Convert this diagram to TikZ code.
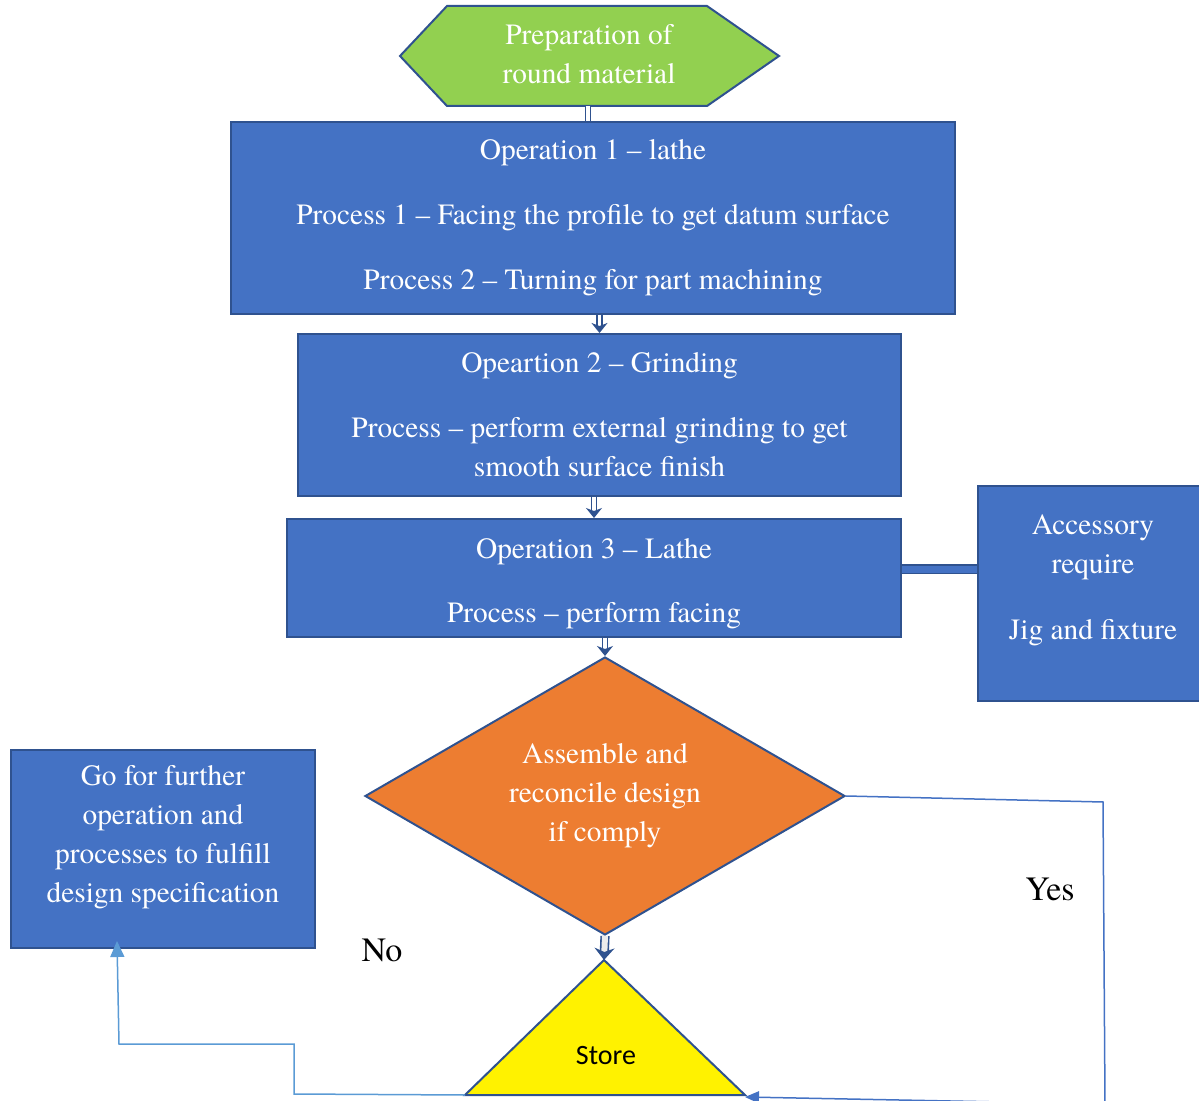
\documentclass[tikz,border=0pt]{standalone}
\usepackage{fontspec}
\setmainfont{TeX Gyre Termes}
\setsansfont{Carlito}
\usetikzlibrary{shapes.geometric,arrows.meta}

\definecolor{opblue}{HTML}{4472C4}
\definecolor{edgeblue}{HTML}{2F528F}
\definecolor{hexgreen}{HTML}{92D050}
\definecolor{decorange}{HTML}{ED7D31}
\definecolor{noblue}{HTML}{5B9BD5}

\tikzset{
  opbox/.style={draw=edgeblue, line width=1pt, fill=opblue, text=white, align=center, inner sep=0pt,
    font=\rmfamily\fontsize{14.7}{19.5}\selectfont},
  boxtext/.style={text=white, align=center, inner sep=0pt, font=\rmfamily\fontsize{14.7}{19.5}\selectfont},
  decision/.style={diamond, shape aspect=1.7, draw=edgeblue, line width=1pt, fill=decorange, text=white,
    align=center, inner sep=0pt, font=\rmfamily\fontsize{14.7}{19.5}\selectfont},
  dblline/.style={draw=edgeblue, line width=0.7pt, double=white, double distance=1.8pt},
  dblarrow/.style={dblline, -{Stealth[length=5pt,width=8pt,inset=1.5pt]}},
  bigarrow/.style={draw=edgeblue, line width=0.8pt, double=gray!15, double distance=3pt, -{Stealth[length=6pt,width=10pt,inset=2pt]}},
  band/.style={draw=edgeblue, line width=0.8pt, double=opblue, double distance=3.5pt},
  yesline/.style={draw=opblue, line width=0.75pt, -{Triangle[length=7pt,width=6pt]}},
  noline/.style={draw=noblue, line width=0.75pt, -{Triangle[length=8pt,width=7pt]}},
  plain/.style={inner sep=0pt, font=\rmfamily\fontsize{17}{20}\selectfont}
}

\begin{document}
\begin{tikzpicture}[x=0.5pt,y=0.5pt,yscale=-1]
\useasboundingbox (0,0) rectangle (1199,1101);

%Shape: Hexagon
\draw [draw=edgeblue, line width=1pt, fill=hexgreen] (400,56) -- (447,6) -- (707,6) -- (779,56) -- (707,106) -- (447,106) -- cycle ;
\node [boxtext] (prep) at (589,54) {Preparation of\\round material};
\coordinate (hexB) at (588,106);

% Operation boxes
\node [opbox, minimum width=362pt, minimum height=96pt] (op1) at (593,218)
  {Operation 1 -- lathe\\[13pt]Process 1 -- Facing the profile to get datum surface\\[13pt]Process 2 -- Turning for part machining};
\node [opbox, minimum width=301.5pt, minimum height=81pt] (op2) at (599.5,415)
  {Opeartion 2 -- Grinding\\[13pt]Process -- perform external grinding to get\\smooth surface finish};
\node [opbox, minimum width=307pt, minimum height=59pt] (op3) at (594,578) {};
\node [boxtext] (op3Text) at (594,584) {Operation 3 -- Lathe\\[12.5pt]Process -- perform facing};

% Accessory box
\node [opbox, minimum width=115pt, minimum height=107.5pt] (acc) at (1093,593.5) {};
\node [boxtext] (accText) at (1093,580) {Accessory\\require\\[13.5pt]Jig and fixture};

% Further operation box
\node [opbox, minimum width=152pt, minimum height=99pt] (further) at (163,849) {};
\node [boxtext] (furtherText) at (163,837) {Go for further\\operation and\\processes to fulfill\\design specification};

% Decision
\node [decision, minimum width=240pt, minimum height=139pt] (dec) at (605,796)
  {Assemble and\\reconcile design\\if comply};

%Shape: Triangle
\coordinate (sTop) at (604,960);
\coordinate (sL) at (465,1095);
\coordinate (sR) at (745,1095);
\draw [draw=edgeblue, line width=1pt, fill=yellow] (sL) -- (sTop) -- (sR) -- cycle ;
\node [inner sep=0pt, font=\sffamily\fontsize{14}{16}\selectfont] (store) at (606,1056) {Store};

% Text Node
\node [plain] (yes) at (1050,889) {Yes};
\node [plain] (no) at (382,950) {No};

% Connectors
\draw [dblline] (hexB) -- (hexB |- op1.north);
\draw [dblarrow] (op2.north |- op1.south) -- (op2.north);
\draw [dblarrow] (op3.north |- op2.south) -- (op3.north);
\draw [dblarrow] (dec.north |- op3.south) -- (dec.north);
\draw [band] ([yshift=-4.5pt]op3.east) -- ([yshift=-4.5pt]op3.east -| acc.west);
\draw [bigarrow] (dec.south) -- (sTop);

%Yes branch
\coordinate (yesTurn) at (1103,802);
\coordinate (yesLow) at (1105,1104);
\draw [yesline] (dec.east) -- (yesTurn) -- (yesLow) -- ([yshift=1pt]sR);

%No branch
\coordinate (noA) at (294,1094);
\coordinate (noB) at (294,1044);
\coordinate (noC) at (119,1044);
\coordinate (noEnd) at (117,941);
\draw [noline] (sL) -- (noA) -- (noB) -- (noC) -- (noEnd);

\end{tikzpicture}
\end{document}
